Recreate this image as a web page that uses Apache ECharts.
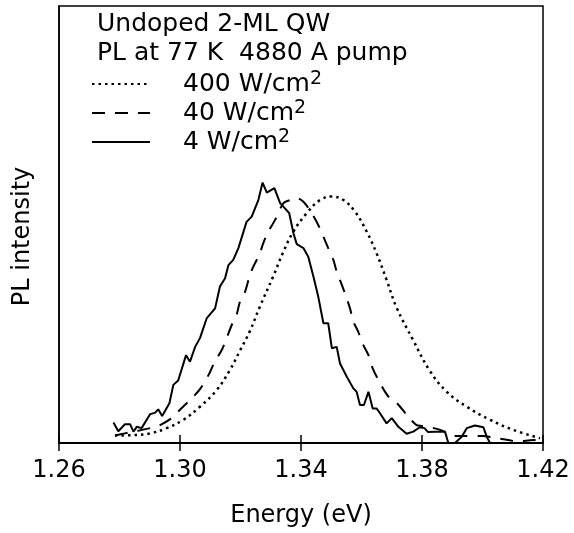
<!DOCTYPE html>
<html>
<head>
<meta charset="utf-8">
<script src="https://cdn.jsdelivr.net/npm/echarts@6/dist/echarts.min.js"></script>
<style>html,body{margin:0;padding:0;background:#fff}#c{width:574px;height:533px}</style>
</head>
<body>
<div id="c"></div>
<script>
// ---- data ----
const titleLines = ['Undoped 2-ML QW', 'PL at 77 K  4880 A pump'];
const seriesNames = ['400 W/cm', '40 W/cm', '4 W/cm'];
const xMin = 1.26, xMax = 1.42, xStep = 0.04;

const dotE = [1.2785,1.2846,1.2901,1.2956,1.3011,1.3066,1.3121,1.3165,1.3198,1.3231,1.3264,1.3308,1.3342,1.3375,1.3419,1.3463,1.3502,1.3540,1.3579,1.3617,1.3650,1.3683,1.3716,1.3771,1.3826,1.3882,1.3948,1.4025,1.4102,1.4190];
const dotI = [0.017,0.018,0.022,0.034,0.053,0.083,0.121,0.167,0.211,0.256,0.312,0.381,0.438,0.484,0.526,0.556,0.564,0.556,0.529,0.484,0.434,0.373,0.310,0.235,0.165,0.117,0.083,0.053,0.030,0.011];

const dashE = [1.2785,1.2818,1.2846,1.2901,1.2928,1.2973,1.3000,1.3044,1.3068,1.3097,1.3112,1.3138,1.3152,1.3171,1.3187,1.3198,1.3215,1.3231,1.3242,1.3264,1.3275,1.3292,1.3314,1.3342,1.3364,1.3383,1.3408,1.3435,1.3457,1.3474,1.3490,1.3507,1.3518,1.3535,1.3549,1.3562,1.3573,1.3589,1.3606,1.3623,1.3637,1.3656,1.3678,1.3694,1.3716,1.3755,1.3782,1.3799,1.3821,1.3860,1.3915,1.3937,1.4003,1.4030,1.4085,1.4118,1.4168,1.4196];
const dashI = [0.017,0.022,0.026,0.034,0.039,0.057,0.076,0.106,0.125,0.159,0.182,0.213,0.236,0.270,0.293,0.323,0.346,0.384,0.403,0.434,0.457,0.484,0.510,0.549,0.556,0.561,0.552,0.526,0.499,0.472,0.446,0.419,0.392,0.362,0.335,0.308,0.278,0.255,0.224,0.201,0.171,0.144,0.117,0.102,0.092,0.060,0.041,0.039,0.037,0.030,0.016,0.016,0.016,0.013,0.007,0.003,0.007,0.002];

const solidE = [1.2780,1.2796,1.2818,1.2835,1.2846,1.2857,1.2873,1.2901,1.2917,1.2928,1.2941,1.2965,1.2978,1.2994,1.3020,1.3033,1.3050,1.3066,1.3088,1.3116,1.3132,1.3149,1.3160,1.3176,1.3193,1.3220,1.3237,1.3259,1.3273,1.3287,1.3312,1.3331,1.3347,1.3361,1.3375,1.3386,1.3408,1.3424,1.3441,1.3457,1.3474,1.3490,1.3502,1.3518,1.3529,1.3551,1.3573,1.3584,1.3595,1.3608,1.3623,1.3637,1.3650,1.3661,1.3683,1.3700,1.3722,1.3749,1.3771,1.3793,1.3808,1.3820,1.3843,1.3876,1.3887,1.3909,1.3931,1.3948,1.3975,1.4003,1.4014,1.4025];
const solidI = [0.047,0.027,0.043,0.043,0.026,0.037,0.034,0.066,0.069,0.077,0.062,0.091,0.133,0.143,0.201,0.186,0.220,0.240,0.285,0.308,0.358,0.377,0.407,0.419,0.446,0.506,0.518,0.556,0.596,0.573,0.583,0.549,0.537,0.526,0.480,0.455,0.446,0.426,0.381,0.335,0.274,0.274,0.217,0.220,0.182,0.152,0.125,0.117,0.087,0.087,0.117,0.079,0.079,0.068,0.045,0.057,0.037,0.021,0.026,0.036,0.034,0.025,0.026,0.026,0.0,0.0,0.014,0.034,0.040,0.036,0.014,0.0];

// ---- chart ----
const FONT = 'DejaVu Sans';
const zip = (a, b) => a.map((v, i) => [v, b[i]]);
const chart = echarts.init(document.getElementById('c'), null, {renderer: 'canvas'});
const axisBase = {
  type: 'value', min: xMin, max: xMax, interval: xStep,
  splitLine: {show: false},
  axisLine: {show: true, onZero: false, lineStyle: {color: '#000', width: 2}}
};
chart.setOption({
  backgroundColor: '#fff',
  animation: false,
  color: ['#000', '#000', '#000'],
  title: {
    text: titleLines.join('\n'), left: 92, top: 5,
    textStyle: {fontFamily: FONT, fontSize: 25, fontWeight: 'normal', color: '#000', lineHeight: 29}
  },
  legend: {
    orient: 'vertical', left: 86, top: 65, itemGap: 0,
    itemWidth: 58, itemHeight: 28,
    data: seriesNames,
    itemStyle: {opacity: 0},
    formatter: n => '{n|' + n + '}{s|2}',
    textStyle: {
      fontFamily: FONT, color: '#000', padding: [0, 0, 0, 28],
      rich: {
        n: {fontFamily: FONT, fontSize: 25, color: '#000', lineHeight: 28},
        s: {fontFamily: FONT, fontSize: 19, color: '#000', lineHeight: 28, verticalAlign: 'top', padding: [0, 0, 10, 0]}
      }
    }
  },
  grid: {left: 59, right: 31, top: 6, bottom: 90, show: true, borderColor: '#000', borderWidth: 1.5, backgroundColor: 'transparent'},
  xAxis: [
    Object.assign({}, axisBase, {
      name: 'Energy (eV)', nameLocation: 'middle', nameGap: 61,
      nameTextStyle: {fontFamily: FONT, fontSize: 24, color: '#000'},
      axisTick: {show: true, inside: false, length: 8, lineStyle: {color: '#000', width: 1.5}},
      axisLabel: {margin: 16, fontFamily: FONT, fontSize: 24, color: '#000', formatter: v => v.toFixed(2)}
    }),
    Object.assign({}, axisBase, {
      position: 'bottom',
      axisTick: {show: true, inside: true, length: 8, lineStyle: {color: '#000', width: 1.5}},
      axisLabel: {show: false}
    })
  ],
  yAxis: {
    type: 'value', min: 0, max: 1,
    name: 'PL intensity', nameLocation: 'middle', nameGap: 24, nameRotate: 90,
    nameTextStyle: {fontFamily: FONT, fontSize: 24, color: '#000', padding: [0, 0, 0, -24]},
    axisLine: {show: true, lineStyle: {color: '#000', width: 1.5}},
    axisTick: {show: false}, axisLabel: {show: false}, splitLine: {show: false}
  },
  series: [
    {name: seriesNames[0], type: 'line', data: zip(dotE, dotI), showSymbol: false, symbol: 'none', smooth: 0.4,
     lineStyle: {color: '#000', width: 2.5, type: [2.5, 4]}},
    {name: seriesNames[1], type: 'line', data: zip(dashE, dashI), showSymbol: false, symbol: 'none', smooth: 0.3,
     lineStyle: {color: '#000', width: 2, type: [13, 10]}},
    {name: seriesNames[2], type: 'line', data: zip(solidE, solidI), showSymbol: false, symbol: 'none',
     lineStyle: {color: '#000', width: 2, type: 'solid'}}
  ]
});
</script>
</body>
</html>
